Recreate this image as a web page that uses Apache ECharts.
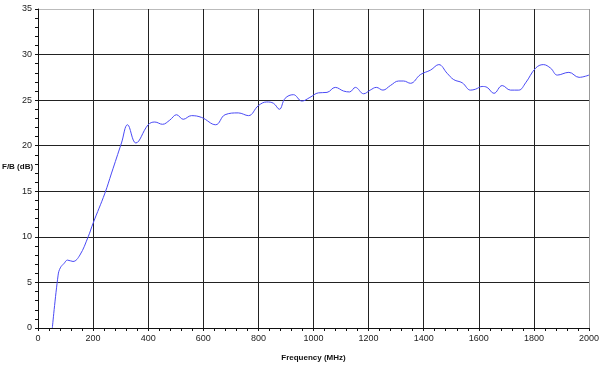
<!DOCTYPE html>
<html>
<head>
<meta charset="utf-8">
<script src="https://cdn.jsdelivr.net/npm/echarts@6/dist/echarts.min.js"></script>
<style>
html,body{margin:0;padding:0;background:#fff;}
#chart{width:600px;height:370px;}
</style>
</head>
<body>
<div id="chart"></div>
<script>
var xTitle = 'Frequency (MHz)';
var yTitle = 'F/B (dB)';
var freq = [52, 73, 81, 95, 107, 127, 152, 182, 200, 243, 267, 303, 325, 355, 400, 424, 452, 478, 503, 527, 557, 594, 645, 679, 727, 764, 800, 830, 855, 876, 897, 927, 958, 987, 1018, 1049, 1079, 1109, 1131, 1152, 1182, 1206, 1228, 1252, 1279, 1309, 1327, 1352, 1388, 1425, 1455, 1485, 1509, 1540, 1570, 1588, 1612, 1630, 1655, 1685, 1715, 1745, 1770, 1806, 1834, 1861, 1885, 1927, 1964, 2000];
var fb = [0, 5.8, 6.6, 7.1, 7.45, 7.3, 8.0, 10.0, 11.5, 14.8, 17.0, 20.3, 22.3, 20.3, 22.3, 22.6, 22.35, 22.8, 23.4, 22.9, 23.3, 23.1, 22.3, 23.4, 23.6, 23.3, 24.4, 24.8, 24.65, 24.0, 25.2, 25.6, 24.9, 25.3, 25.8, 25.85, 26.4, 26.0, 25.9, 26.4, 25.7, 26.1, 26.4, 26.1, 26.6, 27.1, 27.1, 26.85, 27.8, 28.3, 28.9, 27.95, 27.25, 26.9, 26.1, 26.2, 26.5, 26.4, 25.75, 26.6, 26.1, 26.1, 26.9, 28.5, 28.9, 28.5, 27.75, 28.05, 27.5, 27.75];

var pts = freq.map(function (f, i) { return [f, fb[i]]; });
var chart = echarts.init(document.getElementById('chart'), null, {renderer: 'canvas'});
var labelStyle = {color: '#222', fontSize: 9, fontFamily: 'Liberation Sans, Arial, sans-serif', formatter: function (v) { return String(v); }};
var nameStyle = {color: '#111', fontSize: 8, fontWeight: 'bold', fontFamily: 'Liberation Sans, Arial, sans-serif'};
chart.setOption({
  animation: false,
  backgroundColor: '#fff',
  grid: {left: 38, right: 11, top: 9, bottom: 42, containLabel: false, outerBoundsMode: 'none'},
  graphic: [{
    type: 'text', left: 2, top: 163,
    style: {text: yTitle, fill: '#111', font: 'bold 8px "Liberation Sans", Arial, sans-serif'}
  }],
  xAxis: {
    type: 'value', min: 0, max: 2000, interval: 200,
    name: xTitle, nameLocation: 'middle', nameGap: 26, nameTextStyle: nameStyle,
    axisLine: {show: true, onZero: false, lineStyle: {color: '#111', width: 1}},
    axisTick: {show: true, length: 3, lineStyle: {color: '#111'}},
    minorTick: {show: true, splitNumber: 5, length: 3, lineStyle: {color: '#111'}},
    axisLabel: Object.assign({margin: 6}, labelStyle),
    splitLine: {show: true, lineStyle: {color: ['#222','#222','#222','#222','#222','#222','#222','#222','#222','#222','#999'], width: 1}}
  },
  yAxis: {
    type: 'value', min: 0, max: 35, interval: 5,
    axisLine: {show: true, lineStyle: {color: '#111', width: 1}},
    axisTick: {show: true, length: 3, lineStyle: {color: '#111'}},
    minorTick: {show: true, splitNumber: 5, length: 3, lineStyle: {color: '#111'}},
    axisLabel: Object.assign({margin: 6}, labelStyle),
    splitLine: {show: true, lineStyle: {color: ['#222','#222','#222','#222','#222','#222','#222','#bbb'], width: 1}}
  },
  series: [{
    type: 'line', data: pts, smooth: 0.4, showSymbol: false,
    lineStyle: {color: '#4a4af5', width: 1}
  }]
});
</script>
</body>
</html>
